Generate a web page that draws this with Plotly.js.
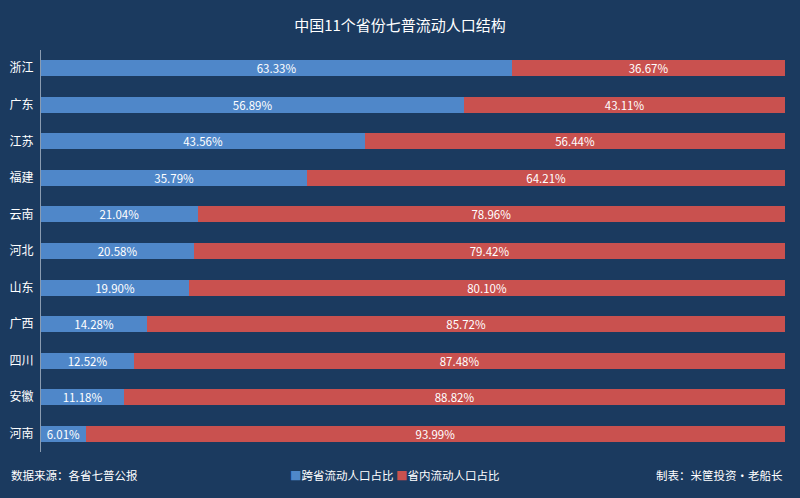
<!DOCTYPE html>
<html><head><meta charset="utf-8">
<script src="https://cdn.plot.ly/plotly-3.0.1.min.js"></script>
<style>html,body{margin:0;padding:0;background:#1b3a5f;}#c{width:800px;height:498px;}</style>
</head><body><div id="c"></div>
<script>
const provinces = ["浙江","广东","江苏","福建","云南","河北","山东","广西","四川","安徽","河南"];
const crossProvince = [63.33,56.89,43.56,35.79,21.04,20.58,19.90,14.28,12.52,11.18,6.01];
const withinProvince = [36.67,43.11,56.44,64.21,78.96,79.42,80.10,85.72,87.48,88.82,93.99];
const seriesNames = ["跨省流动人口占比","省内流动人口占比"];
const colors = ["#4f87c9","#c9514f"];
const font = "'Noto Sans CJK SC', 'Noto Sans', sans-serif";
const fmt = v => v.toFixed(2) + "%";
const traces = [
  {type:"bar", orientation:"h", name:seriesNames[0], y:provinces, x:crossProvince,
   text:crossProvince.map(fmt), textposition:"inside", insidetextanchor:"middle", constraintext:"none",
   marker:{color:colors[0]}, textfont:{color:"#ffffff", size:11.5, family:font}, hoverinfo:"none"},
  {type:"bar", orientation:"h", name:seriesNames[1], y:provinces, x:withinProvince,
   text:withinProvince.map(fmt), textposition:"inside", insidetextanchor:"middle", constraintext:"none",
   marker:{color:colors[1]}, textfont:{color:"#ffffff", size:11.5, family:font}, hoverinfo:"none"}
];
const legendText = seriesNames.map((n,i)=>'<span style="color:'+colors[i]+'">■</span>'+n).join(' ');
const layout = {
  width:800, height:498,
  paper_bgcolor:"#1b3a5f", plot_bgcolor:"#1b3a5f",
  margin:{l:41, r:15, t:50, b:46},
  barmode:"stack", bargap:0.56,
  font:{family:font, color:"#ffffff"},
  title:{text:"中国11个省份七普流动人口结构", x:0.5, xanchor:"center", y:0.948, yanchor:"middle",
         font:{size:15, color:"#ffffff", family:font}},
  xaxis:{range:[0,100], showgrid:false, zeroline:false, showticklabels:false, fixedrange:true},
  yaxis:{autorange:"reversed", showgrid:false, zeroline:false, showline:true, linecolor:"#8a9bb0", linewidth:1,
         ticks:"", tickfont:{size:12, color:"#ffffff", family:font}, ticklabelstandoff:4},
  showlegend:false,
  annotations:[
    {text:"数据来源：各省七普公报", xref:"paper", yref:"paper", x:-0.043, xanchor:"left", y:-0.057, yanchor:"middle",
     showarrow:false, font:{size:11.5, color:"#ffffff", family:font}},
    {text:legendText, xref:"paper", yref:"paper", x:0.476, xanchor:"center", y:-0.057, yanchor:"middle",
     showarrow:false, font:{size:11.5, color:"#ffffff", family:font}},
    {text:"制表：米筐投资·老船长", xref:"paper", yref:"paper", x:1.0, xanchor:"right", y:-0.057, yanchor:"middle",
     showarrow:false, font:{size:11.5, color:"#ffffff", family:font}}
  ]
};
Plotly.newPlot("c", traces, layout, {displayModeBar:false, staticPlot:true});
</script></body></html>
